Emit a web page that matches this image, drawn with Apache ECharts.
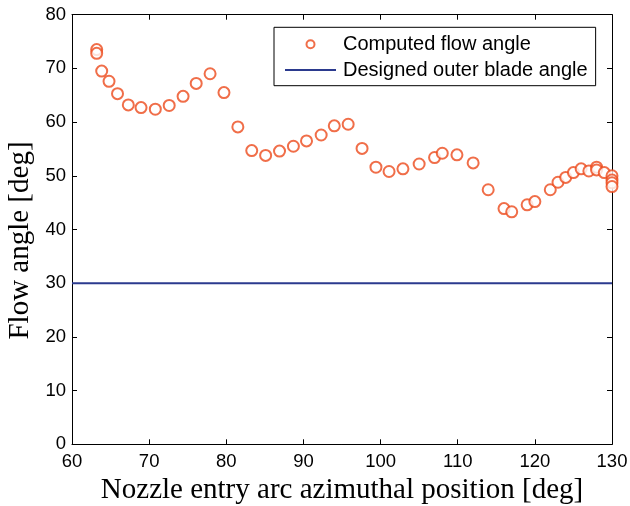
<!DOCTYPE html>
<html>
<head>
<meta charset="utf-8">
<script src="https://cdn.jsdelivr.net/npm/echarts@6/dist/echarts.min.js"></script>
<style>
  html, body { margin: 0; padding: 0; background: #fff; }
  #chart { width: 630px; height: 506px; }
</style>
</head>
<body>
<div id="chart"></div>
<script>
  // azimuthal position [deg] and computed flow angle [deg]
  const positions = [
    63.2, 63.2, 63.85, 64.8, 65.9, 67.3, 68.95, 70.8, 72.6, 74.4, 76.1, 77.9, 79.7,
    81.5, 83.3, 85.1, 86.9, 88.7, 90.4, 92.3, 94.0, 95.8, 97.6, 99.4, 101.1, 102.9,
    105.0, 107.0, 108.0, 109.9, 112.0, 113.95, 116.0, 117.0, 119.0, 120.0, 122.0,
    123.0, 124.0, 125.0, 126.0, 127.0, 128.0, 128.0, 129.0, 130.0, 130.0, 130.0, 130.0
  ]
  const flowAngles = [
    73.5, 72.8, 69.5, 67.6, 65.3, 63.2, 62.7, 62.4, 63.1, 64.8, 67.2, 69.0, 65.5,
    59.1, 54.7, 53.8, 54.6, 55.5, 56.5, 57.6, 59.3, 59.6, 55.1, 51.6, 50.8, 51.3,
    52.2, 53.4, 54.2, 53.9, 52.4, 47.4, 43.9, 43.3, 44.6, 45.2, 47.4,
    48.8, 49.7, 50.6, 51.3, 50.9, 51.6, 51.1, 50.6, 50.0, 49.2, 48.7, 48.0
  ]
  const designedAngle = 30
  const xRange = [60, 130]
  const yRange = [0, 80]

  const chart = echarts.init(document.getElementById('chart'))

  const tickFont = { fontFamily: 'Liberation Sans', fontSize: 18.5, color: '#000' }
  const nameFont = { fontFamily: 'Liberation Serif', fontSize: 29, color: '#000' }
  const frame = { show: true, onZero: false, lineStyle: { color: '#000', width: 1 } }
  const ticks = { inside: true, length: 5, lineStyle: { color: '#000' } }
  // thin horizontal bar for the line legend entry (the two zero-area bits keep the full icon height)
  const lineIcon = 'path://M0,0L1,0M0,8L1,8M0,3L51,3L51,5L0,5Z'

  const flowPoints = positions.map((x, i) => [x, flowAngles[i]])

  const option = {
    animation: false,
    grid: { left: 72, right: 18, top: 14.7, bottom: 61.7, outerBoundsMode: 'none' },
    legend: {
      left: 274,
      top: 27.3,
      orient: 'vertical',
      padding: [7, 8, 5.7, 11],
      itemGap: 5.7,
      itemWidth: 51,
      itemHeight: 8,
      borderColor: '#000',
      borderWidth: 1,
      borderRadius: 0,
      backgroundColor: '#fff',
      textStyle: { fontFamily: 'Liberation Sans', fontSize: 20, lineHeight: 20, color: '#000', padding: [0, 0, 0, 2] },
      data: [
        { name: 'Computed flow angle', icon: 'emptyCircle' },
        { name: 'Designed outer blade angle', icon: lineIcon }
      ]
    },
    xAxis: [
      {
        type: 'value',
        min: xRange[0],
        max: xRange[1],
        interval: 10,
        name: 'Nozzle entry arc azimuthal position [deg]',
        nameLocation: 'middle',
        nameGap: 29,
        nameTextStyle: nameFont,
        axisLine: frame,
        axisTick: ticks,
        axisLabel: Object.assign({ margin: 8 }, tickFont),
        splitLine: { show: false }
      },
      {
        type: 'value',
        position: 'top',
        min: xRange[0],
        max: xRange[1],
        interval: 10,
        axisLine: frame,
        axisTick: ticks,
        axisLabel: { show: false },
        splitLine: { show: false }
      }
    ],
    yAxis: [
      {
        type: 'value',
        min: yRange[0],
        max: yRange[1],
        interval: 10,
        name: 'Flow angle [deg]',
        nameLocation: 'middle',
        nameGap: 35,
        nameTextStyle: Object.assign({ padding: [0, 22, 0, 0] }, nameFont),
        axisLine: frame,
        axisTick: ticks,
        axisLabel: Object.assign({ margin: 6 }, tickFont),
        splitLine: { show: false }
      },
      {
        type: 'value',
        position: 'right',
        min: yRange[0],
        max: yRange[1],
        interval: 10,
        axisLine: frame,
        axisTick: ticks,
        axisLabel: { show: false },
        splitLine: { show: false }
      }
    ],
    series: [
      {
        name: 'Designed outer blade angle',
        type: 'line',
        data: [[xRange[0], designedAngle], [xRange[1], designedAngle]],
        symbol: 'none',
        lineStyle: { color: '#2b3a8e', width: 2 },
        itemStyle: { color: '#2b3a8e' },
        z: 2
      },
      {
        name: 'Computed flow angle',
        type: 'scatter',
        data: flowPoints,
        symbol: 'emptyCircle',
        symbolSize: 11,
        itemStyle: { color: '#ec4a1c', borderColor: '#ec4a1c', borderWidth: 1.8 },
        z: 3
      }
    ]
  }

  chart.setOption(option)
</script>
</body>
</html>
